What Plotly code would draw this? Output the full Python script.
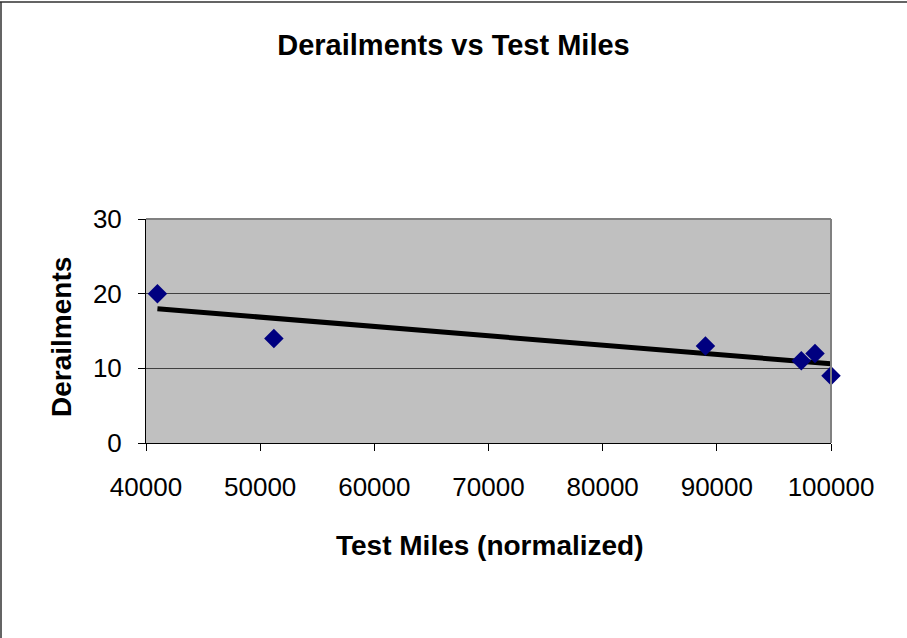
import numpy as np
import plotly.graph_objects as go

# data
test_miles = [41000, 51200, 89000, 97400, 98600, 100000]
derailments = [20, 14, 13, 11, 12, 9]

x_ticks = [40000, 50000, 60000, 70000, 80000, 90000, 100000]
y_ticks = [0, 10, 20, 30]

# linear trendline (least squares, like Excel's)
slope, intercept = np.polyfit(test_miles, derailments, 1)
trend_x = [min(test_miles), max(test_miles)]
trend_y = [slope * v + intercept for v in trend_x]

W, H = 907, 638
L, R, T, B = 146, 76, 219, 195
pw, ph = W - L - R, H - T - B


def px_to_paper_x(px):
    return (px - L) / pw


def px_to_paper_y(py):
    return (H - B - py) / ph


fig = go.Figure()
fig.add_trace(
    go.Scatter(
        x=trend_x,
        y=trend_y,
        mode="lines",
        line=dict(color="black", width=5),
        showlegend=False,
        hoverinfo="skip",
    )
)
fig.add_trace(
    go.Scatter(
        x=test_miles,
        y=derailments,
        mode="markers",
        marker=dict(symbol="diamond", size=15, color="#000080"),
        cliponaxis=False,
        showlegend=False,
    )
)

axis_font = dict(family="Liberation Sans, Arial, sans-serif", size=26, color="black")
bold_font = dict(family="Liberation Sans, Arial, sans-serif", size=28, color="black")

fig.update_xaxes(
    range=[40000, 100000],
    tickvals=x_ticks,
    ticktext=[str(v) for v in x_ticks],
    showgrid=False,
    zeroline=False,
    showline=True,
    linecolor="black",
    linewidth=1,
    ticks="outside",
    ticklen=7,
    tickcolor="black",
    tickfont=axis_font,
    ticklabelstandoff=14,
)
fig.update_yaxes(
    range=[0, 30],
    tickvals=y_ticks,
    ticktext=[str(v) for v in y_ticks],
    showgrid=True,
    gridcolor="#404040",
    gridwidth=1,
    zeroline=False,
    showline=True,
    linecolor="black",
    linewidth=1,
    ticks="outside",
    ticklen=7,
    tickcolor="black",
    tickfont=axis_font,
    ticklabelstandoff=11,
)

fig.update_layout(
    width=W,
    height=H,
    margin=dict(l=L, r=R, t=T, b=B),
    paper_bgcolor="white",
    plot_bgcolor="#C0C0C0",
    title=dict(
        text="<b>Derailments vs Test Miles</b>",
        font=dict(family="Liberation Sans, Arial, sans-serif", size=29, color="black"),
        x=0.5,
        xanchor="center",
        y=1 - 45 / H,
        yanchor="middle",
        xref="container",
        yref="container",
    ),
    annotations=[
        dict(
            text="<b>Test Miles (normalized)</b>",
            xref="paper",
            yref="paper",
            x=px_to_paper_x(490),
            y=px_to_paper_y(545),
            xanchor="center",
            yanchor="middle",
            showarrow=False,
            font=bold_font,
        ),
        dict(
            text="<b>Derailments</b>",
            xref="paper",
            yref="paper",
            x=px_to_paper_x(61),
            y=px_to_paper_y(337),
            xanchor="center",
            yanchor="middle",
            textangle=-90,
            showarrow=False,
            font=bold_font,
        ),
    ],
    shapes=[
        # plot area border, top and right
        dict(type="line", xref="paper", yref="paper", x0=0, x1=1, y0=1, y1=1,
             line=dict(color="#808080", width=2)),
        dict(type="line", xref="paper", yref="paper", x0=1, x1=1, y0=0, y1=1,
             line=dict(color="#808080", width=2)),
        # chart frame, top and left
        dict(type="line", xref="paper", yref="paper",
             x0=px_to_paper_x(0), x1=px_to_paper_x(W), y0=px_to_paper_y(2), y1=px_to_paper_y(2),
             line=dict(color="#303030", width=1.5)),
        dict(type="line", xref="paper", yref="paper",
             x0=px_to_paper_x(1), x1=px_to_paper_x(1), y0=px_to_paper_y(2), y1=px_to_paper_y(H),
             line=dict(color="#303030", width=1.5)),
    ],
)

# drop the browser's default body margin so the figure sits at the page corner
fig.write_html(
    "out.html",
    config={"displayModeBar": False},
    post_script="document.body.style.margin='0';",
)
